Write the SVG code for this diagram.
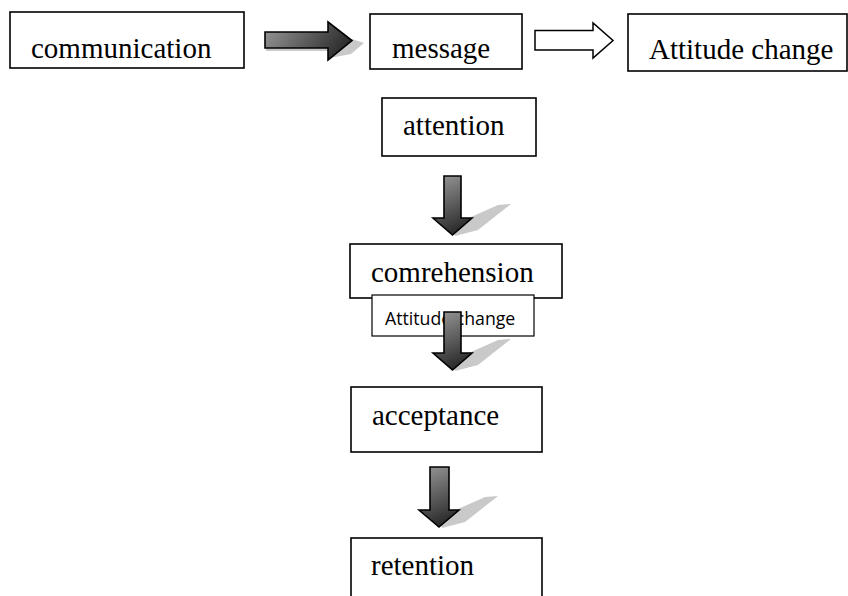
<svg xmlns="http://www.w3.org/2000/svg" width="848" height="596" viewBox="0 0 848 596">
<style>
.box{fill:#fff;stroke:#000;stroke-width:1.6}
.lbl{font-family:"Liberation Serif","Times New Roman",serif;font-size:29px;fill:#000}
.small{font-family:"Open Sans","Noto Sans",sans-serif;font-size:17.7px;fill:#000}
.shadow{fill:#c9c9c9}
.arrH{fill:url(#gh);stroke:#000;stroke-width:1.6;stroke-linejoin:miter}
.arrV{fill:url(#gv);stroke:#000;stroke-width:1.6;stroke-linejoin:miter}
.hollow{fill:#fff;stroke:#000;stroke-width:1.5}
</style>
<defs>
<linearGradient id="gh" x1="0" y1="0" x2="1" y2="0.3">
<stop offset="0" stop-color="#9a9a9a"/>
<stop offset="1" stop-color="#2e2e2e"/>
</linearGradient>
<linearGradient id="gv" x1="0" y1="0" x2="0.3" y2="1">
<stop offset="0" stop-color="#9a9a9a"/>
<stop offset="1" stop-color="#2e2e2e"/>
</linearGradient>
</defs>
<rect width="848" height="596" fill="#fff"/>

<g id="n-communication">
<rect class="box" x="10" y="12" width="234" height="56"/>
<text class="lbl" x="31" y="58">communication</text>
</g>
<g id="n-message">
<rect class="box" x="370" y="14" width="152" height="55"/>
<text class="lbl" x="392" y="58">message</text>
</g>
<g id="n-attitude">
<rect class="box" x="628" y="14" width="219" height="57"/>
<text class="lbl" x="649" y="59">Attitude change</text>
</g>
<g id="n-attention">
<rect class="box" x="382" y="98" width="154" height="58"/>
<text class="lbl" x="403" y="135">attention</text>
</g>
<g id="n-comrehension">
<rect class="box" x="350" y="244" width="212" height="54"/>
<text class="lbl" x="371" y="282">comrehension</text>
</g>
<g id="n-attitude-small">
<rect x="372" y="295" width="162" height="41" fill="#fff" stroke="#000" stroke-width="1.2"/>
<text class="small" x="385" y="325">Attitude change</text>
</g>
<g id="n-acceptance">
<rect class="box" x="351" y="387" width="191" height="65"/>
<text class="lbl" x="372" y="425">acceptance</text>
</g>
<g id="n-retention">
<rect class="box" x="351" y="538" width="191" height="70"/>
<text class="lbl" x="371" y="575">retention</text>
</g>

<g id="connectors">
<g id="c1">
<polygon class="shadow" points="266,47 266,51 330,51 330,58 351,54 364,43 352,39"/>
<polygon class="arrH" points="265,32 328,32 328,22 352,40.5 328,60 328,48 265,48"/>
</g>
<g id="c2">
<polygon class="hollow" points="535,30.5 593,30.5 593,23 613,40.5 593,58 593,50 535,50"/>
</g>
<g id="c3">
<polygon class="shadow" points="453,225 498,205 511,204 478,230 455,236"/>
<polygon class="arrV" points="444,176 461,176 461,218 472,218 452.5,235 433,218 444,218"/>
</g>
<g id="c4">
<polygon class="shadow" points="453,360 498,340 511,339 478,365 455,371"/>
<polygon class="arrV" points="444,312 461,312 461,353 472,353 452.5,370 433,353 444,353"/>
</g>
<g id="c5">
<polygon class="shadow" points="440,517 485,497 498,496 465,522 442,528"/>
<polygon class="arrV" points="430,467 449,467 449,510 459,510 439,527 419,510 430,510"/>
</g>
</g>
</svg>
